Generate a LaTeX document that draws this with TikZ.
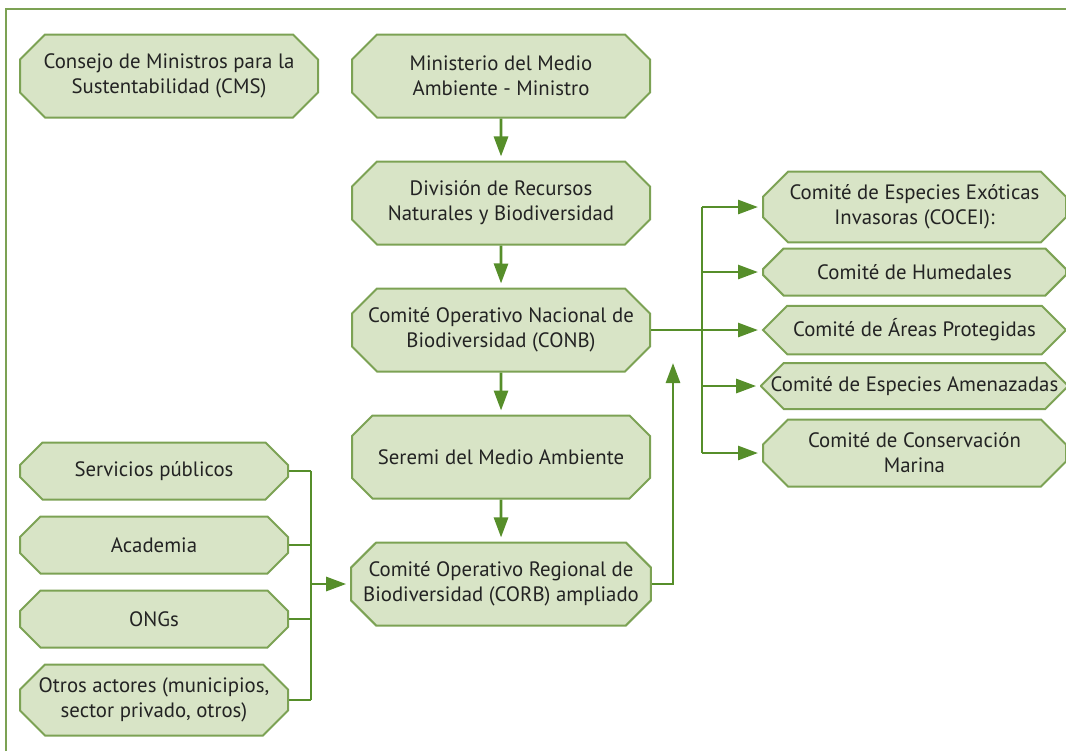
\documentclass[tikz,border=0pt]{standalone}
\usepackage{fontspec}
\setmainfont{PT Sans}
\usepackage{tikz}
\usepackage{xcolor}
\usetikzlibrary{arrows.meta, shapes.misc, calc, positioning}

\definecolor{cajafondo}{RGB}{216,228,198}
\definecolor{cajaborde}{RGB}{124,162,84}
\definecolor{flecha}{RGB}{86,142,42}
\definecolor{texto}{RGB}{35,35,35}

\tikzset{
    caja/.style={chamfered rectangle, chamfered rectangle xsep=6pt, chamfered rectangle ysep=6.5pt,
        draw=cajaborde, fill=cajafondo, line width=1pt, align=center, text=texto,
        font=\fontsize{10.4}{12.5}\selectfont, inner sep=0pt},
    central/.style={caja, minimum width=149pt, minimum height=41.5pt},
    derecha/.style={caja, minimum width=151.5pt},
    izquierda/.style={caja, minimum width=134pt, minimum height=28.5pt},
    flujo/.style={draw=flecha, line width=1.4pt},
    punta/.style={flujo, ->, shorten >=2pt}
}

\begin{document}
\begin{tikzpicture}[x=0.5pt, y=-0.5pt, >={Triangle[length=10pt, width=7pt]}]
                        \useasboundingbox (0, 0) rectangle (1066, 751);
                        \draw[cajaborde, line width=0.8pt] (6, 751) |- (1066, 9);
                        % columna central
                        \node[central] (cms) at (169, 76) {Consejo de Ministros para la\\Sustentabilidad (CMS)};
                        \node[central] (ministerio) at (501, 76) {Ministerio del Medio\\Ambiente - Ministro};
                        \node[central] (division) at (501, 203) {División de Recursos\\Naturales y Biodiversidad};
                        \node[central] (conb) at (501, 330) {Comité Operativo Nacional de\\Biodiversidad (CONB)};
                        \node[central] (seremi) at (501, 457) {Seremi del Medio Ambiente};
                        \node[central] (corb) at (501, 584) {Comité Operativo Regional de\\Biodiversidad (CORB) ampliado};
                        % comites
                        \node[derecha, minimum height=33.5pt] (exoticas) at (914.5, 207) {Comité de Especies Exóticas\\Invasoras (COCEI):};
                        \node[derecha, minimum height=23.5pt] (humedales) at (914.5, 272) {Comité de Humedales};
                        \node[derecha, minimum height=24pt] (areas) at (914.5, 330) {Comité de Áreas Protegidas};
                        \node[derecha, minimum height=23pt] (amenazadas) at (914.5, 386) {Comité de Especies Amenazadas};
                        \node[derecha, minimum height=33.5pt] (marina) at (914.5, 453) {Comité de Conservación\\Marina};
                        % actores
                        \node[izquierda] (servicios) at (154, 471) {Servicios públicos};
                        \node[izquierda] (academia) at (154, 545) {Academia};
                        \node[izquierda] (ongs) at (154, 619) {ONGs};
                        \node[izquierda, minimum height=35.5pt] (otros) at (154, 700) {Otros actores (municipios,\\sector privado, otros)};
                        \coordinate (busder) at (702, 330);
                        \coordinate (busizq) at (311, 584);
                        \coordinate (sube) at (673, 363);
                        \draw[punta] (ministerio) -- (division);
                        \draw[punta] (division) -- (conb);
                        \draw[punta] (conb) -- (seremi);
                        \draw[punta] (seremi) -- (corb);
                        \draw[punta] (conb.east) -- (areas.west);
                        \draw[flujo] (exoticas.west -| busder) -- (marina.west -| busder);
                        \foreach \c in {exoticas, humedales, amenazadas, marina}
                            \draw[punta] (\c.west -| busder) -- (\c.west);
                        \draw[flujo, ->] (corb.east) -| (sube);
                        \draw[flujo] (servicios.east -| busizq) -- (otros.east -| busizq);
                        \foreach \a in {servicios, academia, ongs, otros}
                            \draw[flujo] (\a.east) -- (\a.east -| busizq);
                        \draw[punta] (busizq) -- (corb.west);
                    \end{tikzpicture}
\end{document}
